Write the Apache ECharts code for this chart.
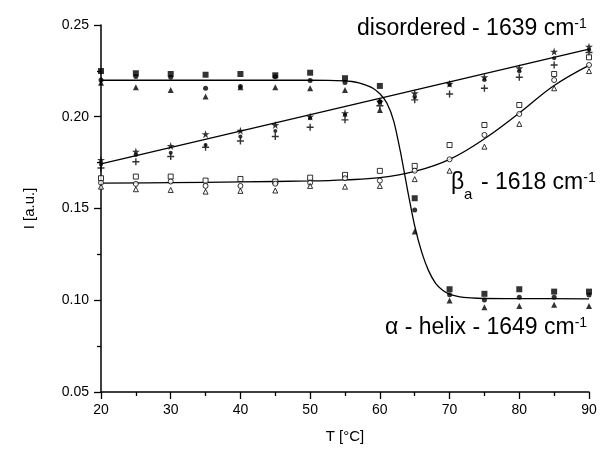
<!DOCTYPE html>
<html><head><meta charset="utf-8">
<script src="https://cdn.jsdelivr.net/npm/echarts@6/dist/echarts.min.js"></script>
<style>html,body{margin:0;padding:0;background:#fff}#c{width:604px;height:456px}</style>
</head><body><div id="c"></div>
<script>
// Temperatures (°C)
const temps = [20,25,30,35,40,45,50,55,60,65,70,75,80,85,90];
// alpha-helix band (filled markers)
const alphaSquare   = [0.2249,0.2237,0.2233,0.2229,0.2233,0.2226,0.2240,0.2210,0.2168,0.1556,0.1060,0.1035,0.1060,0.1047,0.1047];
const alphaCircle   = [0.2200,0.2220,0.2215,0.2155,0.2165,0.2218,0.2197,0.2186,0.2082,0.1492,0.1030,0.1002,0.1017,0.1017,0.1029];
const alphaTriangle = [0.2185,0.2161,0.2146,0.2110,0.2161,0.2161,0.2155,0.2146,0.2037,0.1374,0.0998,0.0962,0.0969,0.0975,0.0969];
// disordered band
const disStar   = [0.1765,0.1810,0.1841,0.1905,0.1924,0.1955,0.2001,0.2020,0.2082,0.2128,0.2180,0.2215,0.2264,0.2355,0.2382];
const disCircle = [0.1740,0.1792,0.1804,0.1846,0.1892,0.1923,0.1992,0.2010,0.2085,0.2106,0.2173,0.2200,0.2246,0.2319,0.2364];
const disPlus   = [0.1721,0.1755,0.1783,0.1834,0.1868,0.1892,0.1943,0.1983,0.2060,0.2092,0.2124,0.2155,0.2215,0.2282,0.2350];
// beta_a band (open markers)
const betaSquare   = [0.1665,0.1674,0.1674,0.1652,0.1661,0.1647,0.1668,0.1683,0.1705,0.1732,0.1846,0.1955,0.2064,0.2233,0.2324];
const betaCircle   = [0.1640,0.1634,0.1647,0.1623,0.1623,0.1635,0.1640,0.1665,0.1652,0.1706,0.1768,0.1901,0.2015,0.2200,0.2282];
const betaTriangle = [0.1619,0.1605,0.1601,0.1592,0.1596,0.1598,0.1623,0.1619,0.1623,0.1660,0.1706,0.1837,0.1961,0.2155,0.2249];
// fitted curves
const alphaFitX = [20,50,55,56,57,58,59,60,61,62,63,64,65,66,67,68,69,70,71,72,74,78,90];
const alphaFitY = [0.2199,0.2199,0.2196,0.2192,0.2185,0.2172,0.2155,0.2125,0.2075,0.1975,0.1800,0.1595,0.1405,0.1262,0.1160,0.1092,0.1054,0.1033,0.1022,0.1016,0.1011,0.1009,0.1008];
const disFitX = [20,90];
const disFitY = [0.1743,0.2368];
const betaFitX = [20,30,40,50,55,60,65,70,75,80,85,90];
const betaFitY = [0.1638,0.1641,0.1645,0.1650,0.1656,0.1668,0.1702,0.1768,0.1880,0.2020,0.2170,0.2280];
// axis ticks
const xTicks = [20,30,40,50,60,70,80,90];
const yTicks = [0.05,0.10,0.15,0.20,0.25];

const pair = (xs, ys) => xs.map((x,i)=>[x, ys[i]]);
const STAR = 'path://M50,0L61.2,34.6L97.6,34.5L68.1,55.9L79.4,90.5L50,69L20.6,90.5L31.9,55.9L2.4,34.5L38.8,34.6Z';
const PLUS = 'path://M4,0H6V4H10V6H6V10H4V6H0V4H4Z';
const FONT = '"Liberation Sans", Arial, sans-serif';

function sc(name, data, symbol, size) {
  return {
    type: 'scatter', name, data: pair(temps, data), symbol, symbolSize: size,
    itemStyle: { color: '#000', borderColor: '#000', borderWidth: 0 }, z: 3, silent: true
  };
}
function openSc(name, data, symbol, size) {
  return {
    type: 'scatter', name, data: pair(temps, data), symbol, symbolSize: size,
    itemStyle: { color: '#fff', borderColor: '#000', borderWidth: 1 }, z: 4, silent: true
  };
}
function fit(name, xs, ys, smooth) {
  return {
    type: 'line', name, data: pair(xs, ys), showSymbol: false, symbol: 'none',
    smooth: smooth,
    lineStyle: { color: '#000', width: 1.3 }, z: 2, silent: true
  };
}
const axisCommon = {
  axisLine: { lineStyle: { color: '#000', width: 1.5 } },
  axisTick: { length: 7, lineStyle: { color: '#000', width: 1.3 } },
  minorTick: { show: true, splitNumber: 2, length: 4, lineStyle: { color: '#000', width: 1.3 } },
  splitLine: { show: false },
  nameTextStyle: { fontSize: 15, color: '#000', fontFamily: FONT }
};
const supRich = { sup: { fontSize: 14, verticalAlign: 'top', lineHeight: 14, fill: '#000' } };

const chart = echarts.init(document.getElementById('c'), null, { renderer: 'canvas' });
chart.setOption({
  animation: false,
  backgroundColor: '#fff',
  textStyle: { fontFamily: FONT },
  grid: { left: 101, right: 15, top: 25, bottom: 64 },
  xAxis: Object.assign({
    type: 'value', min: xTicks[0], max: xTicks[xTicks.length-1], interval: 10,
    name: 'T [°C]', nameLocation: 'middle', nameGap: 37,
    axisLabel: { fontSize: 14, color: '#000', margin: 11, fontFamily: FONT }
  }, axisCommon),
  yAxis: Object.assign({
    type: 'value', min: yTicks[0], max: yTicks[yTicks.length-1], interval: 0.05,
    name: 'I [a.u.]', nameLocation: 'middle', nameGap: 64, nameRotate: 90,
    axisLabel: { fontSize: 14, color: '#000', margin: 12, fontFamily: FONT, formatter: v => v.toFixed(2) }
  }, axisCommon),
  graphic: [
    { type: 'text', left: 357, top: 17, z: 10, style: {
      text: 'disordered - 1639 cm{sup|-1}', fill: '#000', font: '23px ' + FONT, rich: supRich } },
    { type: 'text', left: 451, top: 171, z: 10, style: {
      text: 'β', fill: '#000', font: '23px ' + FONT } },
    { type: 'text', left: 464, top: 187, z: 10, style: {
      text: 'a', fill: '#000', font: '15px ' + FONT } },
    { type: 'text', left: 481, top: 171, z: 10, style: {
      text: '- 1618 cm{sup|-1}', fill: '#000', font: '23px ' + FONT, rich: supRich } },
    { type: 'text', left: 385, top: 316, z: 10, style: {
      text: 'α - helix - 1649 cm{sup|-1}', fill: '#000', font: '23px ' + FONT, rich: supRich } }
  ],
  series: [
    fit('alpha fit', alphaFitX, alphaFitY, 0.2),
    fit('disordered fit', disFitX, disFitY, false),
    fit('beta fit', betaFitX, betaFitY, 0.4),
    sc('alpha square', alphaSquare, 'rect', 6),
    sc('alpha circle', alphaCircle, 'circle', 5),
    sc('alpha triangle', alphaTriangle, 'triangle', 6),
    sc('dis star', disStar, STAR, 8),
    sc('dis circle', disCircle, 'circle', 4),
    sc('dis plus', disPlus, PLUS, 7),
    openSc('beta square', betaSquare, 'rect', 5),
    openSc('beta circle', betaCircle, 'circle', 5),
    openSc('beta triangle', betaTriangle, 'triangle', 5)
  ]
});
</script></body></html>
